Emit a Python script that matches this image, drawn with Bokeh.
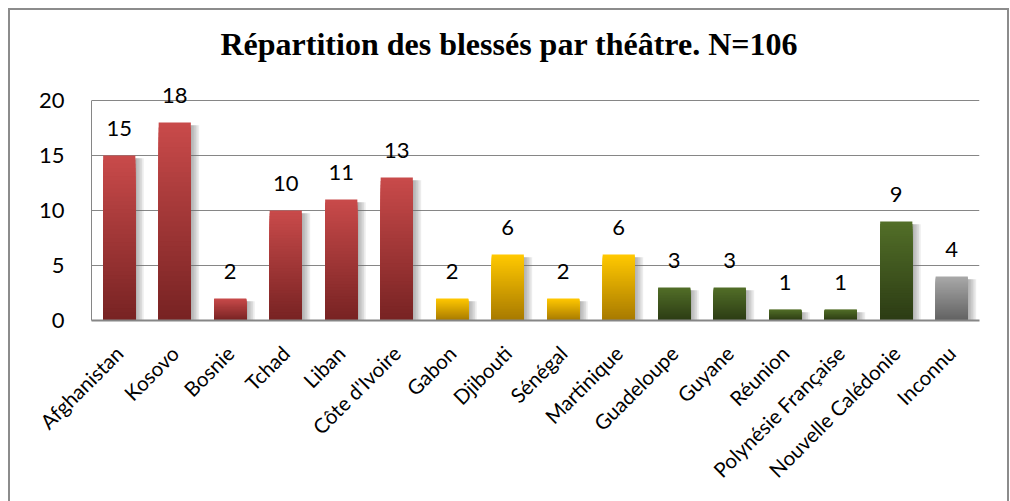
import math
from bokeh.plotting import figure
from bokeh.models import ColumnDataSource, Range1d, FactorRange, FixedTicker, Title, LabelSet
from bokeh.transform import dodge
from bokeh.core.properties import value
from bokeh.embed import file_html
from bokeh.resources import INLINE

# ---- data ----
theatres = ["Afghanistan", "Kosovo", "Bosnie", "Tchad", "Liban", "Côte d'Ivoire",
            "Gabon", "Djibouti", "Sénégal", "Martinique", "Guadeloupe", "Guyane",
            "Réunion", "Polynésie Française", "Nouvelle Calédonie", "Inconnu"]
blesses = [15, 18, 2, 10, 11, 13, 2, 6, 2, 6, 3, 3, 1, 1, 9, 4]
groupes = ["red"] * 6 + ["yellow"] * 4 + ["green"] * 5 + ["gray"]
y_ticks = [0, 5, 10, 15, 20]
y_max = 20
title_text = "Répartition des blessés par théâtre. N=106"

# gradient (top colour, bottom colour) per group
grad = {
    "red": ((200, 74, 74), (120, 35, 35)),
    "yellow": ((255, 200, 0), (168, 122, 0)),
    "green": ((82, 110, 40), (44, 60, 20)),
    "gray": ((168, 168, 168), (98, 98, 98)),
}

def hexcol(c):
    return "#%02x%02x%02x" % tuple(int(round(v)) for v in c)

# frame: 11 px per unit; extra headroom above the axis top so value labels aren't clipped
px_per_unit = 11
head_px = 28
p = figure(x_range=FactorRange(*theatres),
           y_range=Range1d(0, y_max + head_px / px_per_unit),
           frame_width=888, frame_height=y_max * px_per_unit + head_px,
           min_border_left=81, min_border_right=28, min_border_top=90 - head_px,
           min_border_bottom=181,
           output_backend="svg", toolbar_location=None, tools="",
           styles={"border": "2px solid #8c8c8c", "margin-left": "8px", "margin-top": "8px"})
p.background_fill_color = "white"
p.border_fill_color = "white"
p.outline_line_color = None

# shadows
for off in [0.03, 0.06, 0.09, 0.12, 0.15]:
    src = ColumnDataSource(dict(x=theatres, top=[v - 0.25 for v in blesses]))
    p.vbar(x=dodge("x", off, range=p.x_range), top="top", bottom=0, width=0.58, source=src,
           fill_color="#6f6f6f", fill_alpha=0.13, line_color=None)

# gradient bars: overlapping layers, tallest (lightest) first
N = 40
xs, tops, cols = [], [], []
for k in range(N):
    frac = (N - k) / N
    t = k / (N - 1)
    for name, v, g in zip(theatres, blesses, groupes):
        c0, c1 = grad[g]
        xs.append(name)
        tops.append(v * frac)
        cols.append(hexcol([a + (b - a) * t for a, b in zip(c0, c1)]))
p.vbar(x="x", top="top", bottom=0, width=0.58, fill_color="c", line_color=None,
       source=ColumnDataSource(dict(x=xs, top=tops, c=cols)))

# value labels
lbl = ColumnDataSource(dict(x=theatres, y=blesses, t=[str(v) for v in blesses]))
p.add_layout(LabelSet(x="x", y="y", text="t", source=lbl, text_align="center",
                      text_baseline="bottom", y_offset=20, text_font=value("Lato"),
                      text_font_size="22px", text_color="#000000"))

# title
p.add_layout(Title(text=title_text, align="left", offset=129, standoff=21,
                   text_font="Liberation Serif", text_font_style="bold",
                   text_font_size="32px", text_color="#000000"), "above")

# axes
p.yaxis.ticker = FixedTicker(ticks=y_ticks)
p.yaxis.bounds = (0, y_max)
p.yaxis.axis_line_color = "#868686"
p.yaxis.major_tick_line_color = None
p.yaxis.minor_tick_line_color = None
p.yaxis.major_label_standoff = 21
p.yaxis.major_label_text_font = "Lato"
p.yaxis.major_label_text_font_size = "22px"
p.yaxis.major_label_text_color = "#000000"

p.xaxis.axis_line_color = "#868686"
p.xaxis.axis_line_width = 2
p.xaxis.major_tick_line_color = None
p.xaxis.minor_tick_line_color = None
p.xaxis.major_label_orientation = math.pi / 4
p.xaxis.major_label_standoff = 23
p.xaxis.major_label_text_font = "Lato"
p.xaxis.major_label_text_font_size = "20.5px"
p.xaxis.major_label_text_color = "#000000"

p.xgrid.grid_line_color = None
p.ygrid.grid_line_color = "#868686"
p.ygrid.grid_line_width = 1
p.x_range.range_padding = 0
p.x_range.group_padding = 0

open("out.html", "w").write(file_html(p, INLINE))
